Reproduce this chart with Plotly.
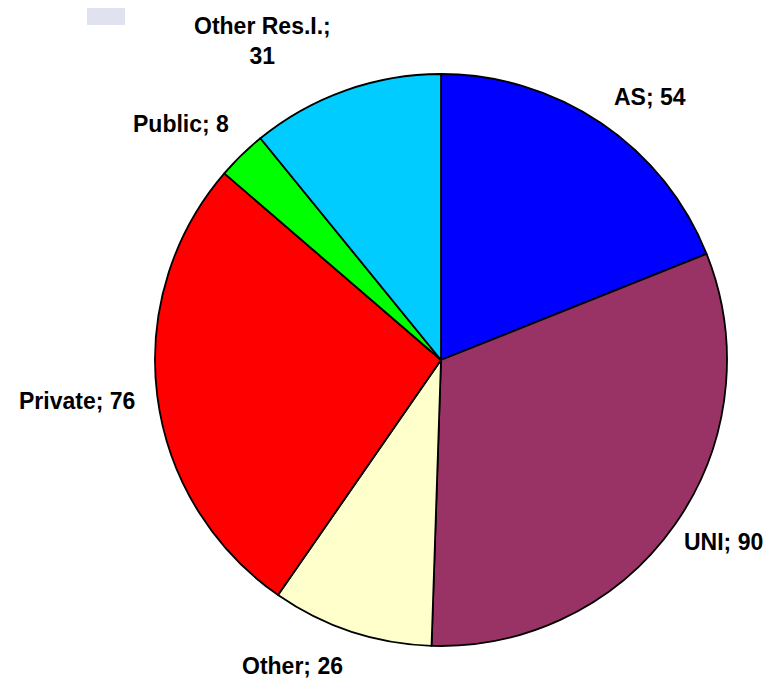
import math
import plotly.graph_objects as go

# ---- data ----
categories = ["AS", "UNI", "Other", "Private", "Public", "Other Res.I."]
values = [54, 90, 26, 76, 8, 31]
label_texts = ["AS; 54", "UNI; 90", "Other; 26", "Private; 76", "Public; 8", "Other Res.I.;<br>31"]
colors = ["#0000FF", "#993366", "#FFFFCC", "#FF0000", "#00FF00", "#00CCFF"]

# ---- layout config (page has an 8px body margin) ----
OFF = 8
W, H = 773 - OFF, 680 - OFF
cx, cy, R = 441 - OFF, 360 - OFF, 286          # pie centre / radius in px
label_r = [336, 336, 340, 366, 351, 366]        # label distance from centre in px
label_dang = [4.4, -2.3, 7.5, 0.9, -3.6, -9.7]  # angular nudge of labels, degrees

fig = go.Figure(go.Pie(
    labels=categories,
    values=values,
    sort=False,
    direction="clockwise",
    rotation=0,
    marker=dict(colors=colors, line=dict(color="black", width=1.8)),
    textinfo="none",
    hoverinfo="label+value",
    showlegend=False,
    domain=dict(x=[(cx - R) / W, (cx + R) / W], y=[1 - (cy + R) / H, 1 - (cy - R) / H]),
))

total = sum(values)
cum = 0
annotations = []
for txt, v, r, da in zip(label_texts, values, label_r, label_dang):
    mid = (cum + v / 2) / total * 2 * math.pi + math.radians(da)
    cum += v
    px = cx + r * math.sin(mid)
    py = cy - r * math.cos(mid)
    annotations.append(dict(
        x=px / W, y=1 - py / H, xref="paper", yref="paper",
        text="<b>" + txt.replace("<br>", "</b><br><b>") + "</b>",
        showarrow=False, xanchor="center", yanchor="middle",
        font=dict(family="Liberation Sans, Arial, sans-serif", size=23, color="black"),
    ))

fig.update_layout(
    width=W, height=H,
    margin=dict(l=0, r=0, t=0, b=0),
    paper_bgcolor="white",
    plot_bgcolor="white",
    annotations=annotations,
    shapes=[dict(type="rect", xref="paper", yref="paper",
                 x0=(87 - OFF) / W, x1=(125 - OFF) / W, y0=1 - (25 - OFF) / H, y1=1,
                 fillcolor="#E0E2F0", line=dict(width=0), layer="below")],
)

fig.write_html("out.html")
